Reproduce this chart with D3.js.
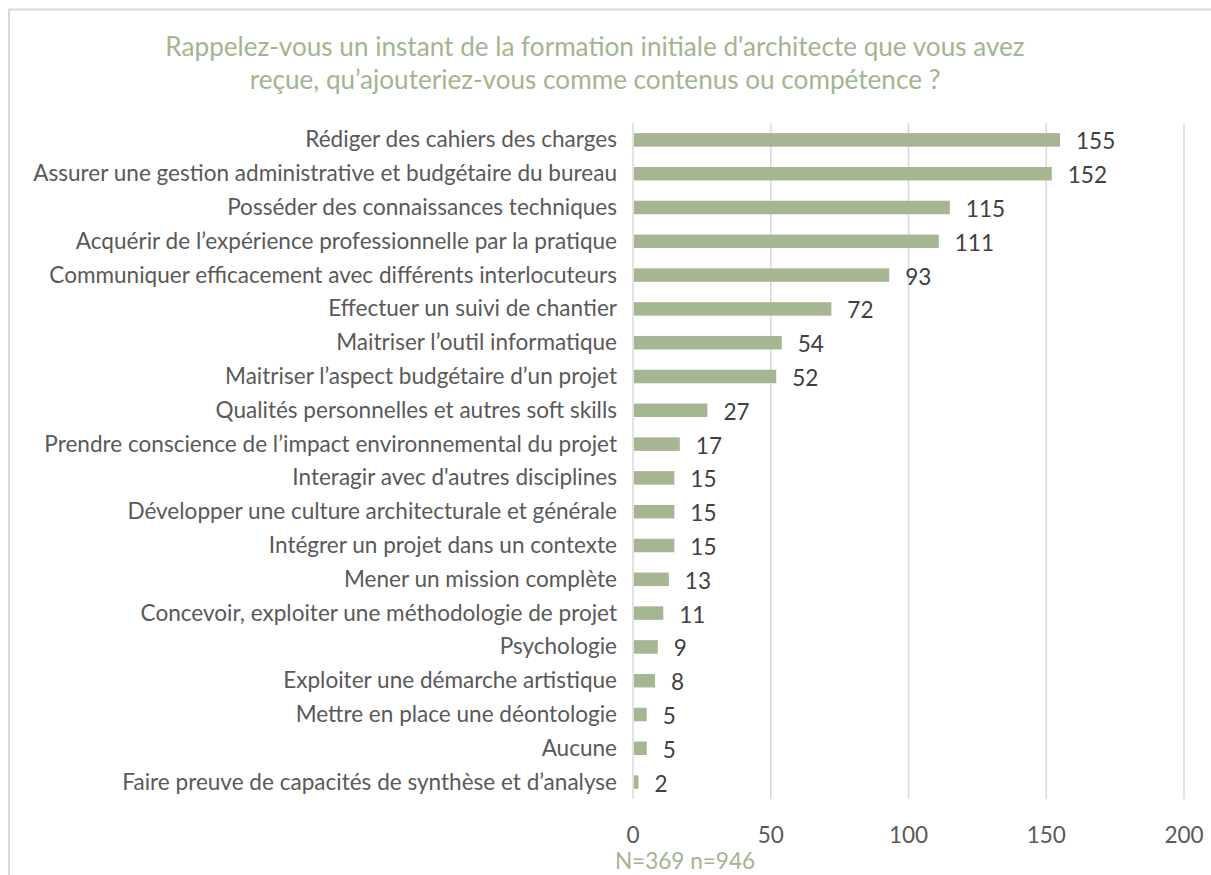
<!DOCTYPE html>
<html>
<head>
<meta charset="utf-8">
<script src="https://cdn.jsdelivr.net/npm/d3@7"></script>
<style>
  body { margin: 0; background: #fff; }
  text { font-family: Lato, "Open Sans", sans-serif; }
</style>
</head>
<body>
<svg width="1211" height="875"></svg>
<script>
// the answers, top to bottom
var categories = [
  "Rédiger des cahiers des charges",
  "Assurer une gestion administrative et budgétaire du bureau",
  "Posséder des connaissances techniques",
  "Acquérir de l’expérience professionnelle par la pratique",
  "Communiquer efficacement avec différents interlocuteurs",
  "Effectuer un suivi de chantier",
  "Maitriser l’outil informatique",
  "Maitriser l’aspect budgétaire d’un projet",
  "Qualités personnelles et autres soft skills",
  "Prendre conscience de l’impact environnemental du projet",
  "Interagir avec d'autres disciplines",
  "Développer une culture architecturale et générale",
  "Intégrer un projet dans un contexte",
  "Mener un mission complète",
  "Concevoir, exploiter une méthodologie de projet",
  "Psychologie",
  "Exploiter une démarche artistique",
  "Mettre en place une déontologie",
  "Aucune",
  "Faire preuve de capacités de synthèse et d’analyse"
];
var counts = [155, 152, 115, 111, 93, 72, 54, 52, 27, 17, 15, 15, 15, 13, 11, 9, 8, 5, 5, 2];
var ticks = [0, 50, 100, 150, 200];
var titleLines = [
  "Rappelez-vous un instant de la formation initiale d'architecte que vous avez",
  "reçue, qu’ajouteriez-vous comme contenus ou compétence ?"
];
var footnote = "N=369 n=946";

var svg = d3.select("svg");
var green = "#a6b592";
var titleGreen = "#a3b58f";
var textGrey = "#595959";

// the original font (Calibri) is narrower, so size the fallback by measured width
function fitSize(str, target) {
  var t = svg.append("text").attr("font-size", 20).text(str);
  var w = t.node().getComputedTextLength();
  t.remove();
  return 20 * target / w;
}
var labelSize = fitSize(categories[1], 584);
var titleSize = fitSize(titleLines[0], 860);

// outer frame (only top and left show)
svg.append("path")
  .attr("d", "M9,875 V9.5 H1211")
  .attr("fill", "none")
  .attr("stroke", "#d9d9d9")
  .attr("stroke-width", 2);

// title
svg.selectAll(".title")
  .data(titleLines)
  .enter().append("text")
  .attr("class", "title")
  .attr("x", 595)
  .attr("y", function (d, i) { return 56 + i * 33; })
  .attr("text-anchor", "middle")
  .attr("font-size", titleSize)
  .attr("fill", titleGreen)
  .text(function (d) { return d; });

var x = d3.scaleLinear().domain([0, 200]).range([633, 1184]);
var y = d3.scaleBand().domain(categories).range([123, 799]).paddingInner(0.6).paddingOuter(0.3);

// gridlines
svg.selectAll(".grid")
  .data(ticks)
  .enter().append("line")
  .attr("x1", function (d) { return x(d); })
  .attr("x2", function (d) { return x(d); })
  .attr("y1", 123)
  .attr("y2", 799)
  .attr("stroke", "#d9d9d9")
  .attr("stroke-width", 1.5);

// tick labels
svg.selectAll(".tick")
  .data(ticks)
  .enter().append("text")
  .attr("x", function (d) { return x(d); })
  .attr("y", 843)
  .attr("text-anchor", "middle")
  .attr("font-size", labelSize)
  .attr("fill", textGrey)
  .text(function (d) { return d; });

// bars
svg.selectAll(".bar")
  .data(counts)
  .enter().append("rect")
  .attr("x", x(0) + 1)
  .attr("y", function (d, i) { return y(categories[i]); })
  .attr("width", function (d) { return x(d) - x(0) - 1; })
  .attr("height", y.bandwidth())
  .attr("fill", green);

// value labels
svg.selectAll(".val")
  .data(counts)
  .enter().append("text")
  .attr("x", function (d) { return x(d) + 16; })
  .attr("y", function (d, i) { return y(categories[i]) + y.bandwidth() / 2 + 9.5; })
  .attr("font-size", labelSize)
  .attr("fill", "#404040")
  .text(function (d) { return d; });

// category labels
svg.selectAll(".cat")
  .data(categories)
  .enter().append("text")
  .attr("x", 617)
  .attr("y", function (d) { return y(d) + y.bandwidth() / 2 + 7.5; })
  .attr("text-anchor", "end")
  .attr("font-size", labelSize)
  .attr("fill", textGrey)
  .text(function (d) { return d; });

svg.append("text")
  .attr("x", 685)
  .attr("y", 869)
  .attr("text-anchor", "middle")
  .attr("font-size", labelSize)
  .attr("fill", titleGreen)
  .text(footnote);
</script>
</body>
</html>
